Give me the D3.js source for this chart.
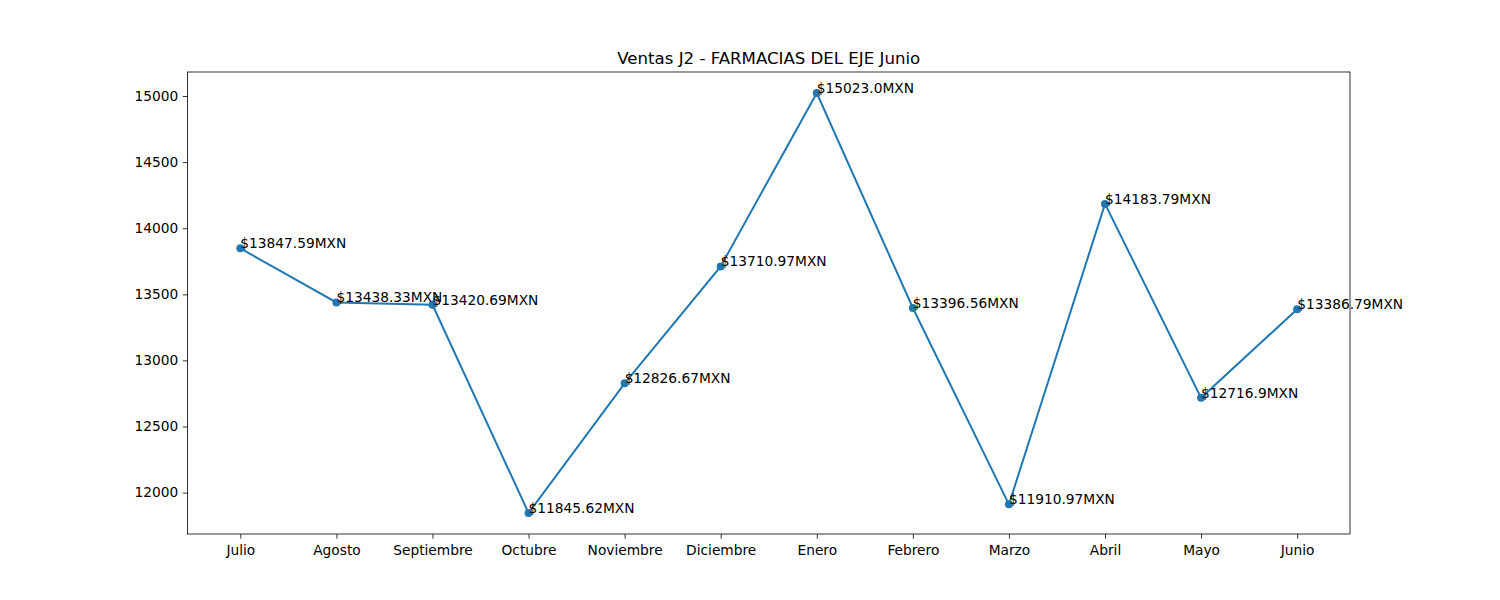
<!DOCTYPE html>
<html><head><meta charset="utf-8">
<script src="https://cdn.jsdelivr.net/npm/d3@7"></script>
<style>body{margin:0;background:#fff}svg{display:block}text{font-family:"DejaVu Sans",sans-serif}</style>
</head><body>
<svg id="c" width="1500" height="600"></svg>
<script>
const months = ["Julio","Agosto","Septiembre","Octubre","Noviembre","Diciembre","Enero","Febrero","Marzo","Abril","Mayo","Junio"];
const sales = [13847.59,13438.33,13420.69,11845.62,12826.67,13710.97,15023.0,13396.56,11910.97,14183.79,12716.9,13386.79];
const labels = ["$13847.59MXN","$13438.33MXN","$13420.69MXN","$11845.62MXN","$12826.67MXN","$13710.97MXN","$15023.0MXN","$13396.56MXN","$11910.97MXN","$14183.79MXN","$12716.9MXN","$13386.79MXN"];
const yTicks = [12000,12500,13000,13500,14000,14500,15000];
const title = "Ventas J2 - FARMACIAS DEL EJE Junio";

const L=187.5,R=1350,T=72,B=534;
const svg=d3.select("#c");
const n=months.length;
const x=d3.scaleLinear().domain([-0.55,n-1+0.55]).range([L,R]);
const mn=d3.min(sales),mx=d3.max(sales),pad=(mx-mn)*0.05;
const y=d3.scaleLinear().domain([mn-pad,mx+pad]).range([B,T]);

const xa=svg.append("g").attr("transform",`translate(0,${B})`)
  .call(d3.axisBottom(x).tickValues(d3.range(n)).tickFormat(i=>months[i]).tickSize(4.67).tickPadding(6.5));
const ya=svg.append("g").attr("transform",`translate(${L},0)`)
  .call(d3.axisLeft(y).tickValues(yTicks).tickFormat(d3.format("d")).tickSize(4.67).tickPadding(4.67));
[xa,ya].forEach(a=>{a.select(".domain").remove();a.selectAll("line").attr("stroke","#000").attr("stroke-width",0.8);
  a.selectAll("text").attr("font-size","13.75px").attr("fill","#000").attr("font-family","DejaVu Sans");});

svg.append("rect").attr("x",L).attr("y",T).attr("width",R-L).attr("height",B-T)
  .attr("fill","none").attr("stroke","#000").attr("stroke-width",0.8);

const line=d3.line().x((d,i)=>x(i)).y(d=>y(d));
svg.append("path").datum(sales).attr("d",line).attr("fill","none").attr("stroke","#1f77b4").attr("stroke-width",2);
svg.selectAll("circle.p").data(sales).join("circle").attr("cx",(d,i)=>x(i)).attr("cy",d=>y(d)).attr("r",4).attr("fill","#1f77b4");
svg.selectAll("text.lbl").data(sales).join("text").attr("class","lbl")
  .attr("x",(d,i)=>x(i)).attr("y",d=>y(d)).attr("font-size","13.75px").attr("fill","#000").text((d,i)=>labels[i]);

svg.append("text").attr("x",(L+R)/2).attr("y",T-8).attr("text-anchor","middle").attr("font-size","16.6px").attr("fill","#000").text(title);
</script>
</body></html>
